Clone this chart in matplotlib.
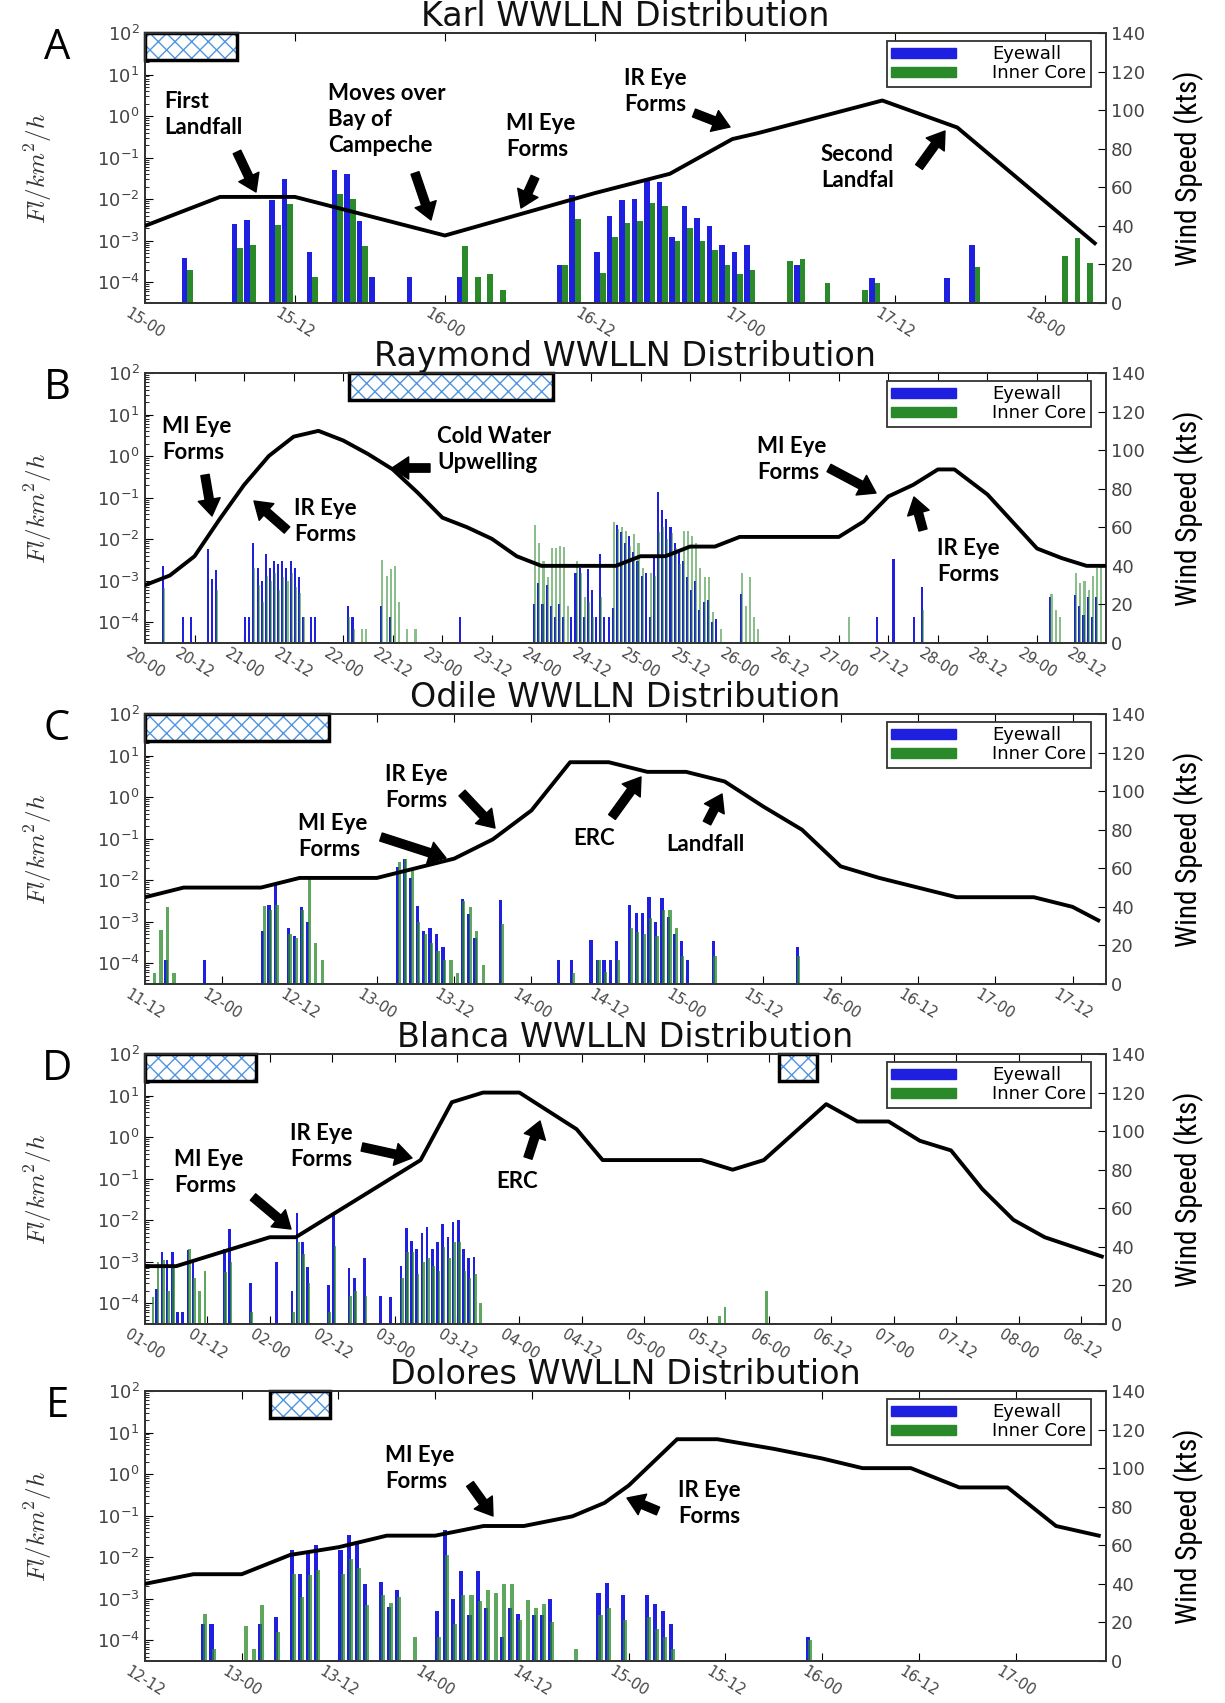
import numpy as np
import matplotlib
matplotlib.use("Agg")
import matplotlib.pyplot as plt
import matplotlib.transforms as mtransforms
from matplotlib.patches import Rectangle
from matplotlib.ticker import LogLocator, NullFormatter
from matplotlib import font_manager

# ======================= DATA (hours since first tick) =======================
# ---- Karl ----
karl_ticks = ["15-00", "15-12", "16-00", "16-12", "17-00", "17-12", "18-00"]
karl_span = 76.9
karl_track_h = [0, 6, 12, 18, 24, 30, 36, 42, 47, 49, 59, 65, 76]
karl_wind = [40, 55, 55, 45, 35, 46, 57, 67, 85, 88, 105, 91, 31]
karl_eye_h = [3, 7, 8, 10, 11, 13, 15, 16, 17, 18, 21, 25, 33, 34, 36, 37, 38, 39, 40, 41,
              42, 43, 44, 45, 46, 47, 48, 52, 58, 64, 66]
karl_eye_v = [3.9e-4, 2.5e-3, 3.2e-3, 9.5e-3, 3.0e-2, 5.3e-4, 4.9e-2, 4.0e-2, 3.0e-3, 1.3e-4,
              1.3e-4, 1.3e-4, 2.6e-4, 1.26e-2, 5.3e-4, 4.0e-3, 9.5e-3, 1.0e-2, 2.9e-2, 2.6e-2,
              1.2e-3, 6.9e-3, 3.5e-3, 2.2e-3, 8.0e-4, 5.3e-4, 8.0e-4, 2.6e-4, 1.26e-4, 1.26e-4, 8.0e-4]
karl_core_h = [3, 7, 8, 10, 11, 13, 15, 16, 17, 25, 26, 27, 28, 33, 34, 36, 37, 38, 39, 40,
               41, 42, 43, 44, 45, 46, 47, 48, 51, 52, 54, 57, 58, 66, 73, 74, 75]
karl_core_v = [2.0e-4, 6.6e-4, 8.0e-4, 2.4e-3, 7.6e-3, 1.3e-4, 1.3e-2, 1.0e-2, 7.4e-4, 7.4e-4,
               1.3e-4, 1.6e-4, 6.5e-5, 2.6e-4, 3.3e-3, 1.66e-4, 1.26e-3, 2.6e-3, 3.0e-3, 8.3e-3,
               6.9e-3, 1.0e-3, 2.0e-3, 9.6e-4, 6.0e-4, 2.6e-4, 1.6e-4, 2.0e-4, 3.3e-4, 3.6e-4,
               9.8e-5, 6.5e-5, 9.8e-5, 2.3e-4, 4.3e-4, 1.15e-3, 2.9e-4]
karl_hatch = [(0, 7.4)]

# ---- Raymond ----
raymond_ticks = ["20-00", "20-12", "21-00", "21-12", "22-00", "22-12", "23-00", "23-12",
                 "24-00", "24-12", "25-00", "25-12", "26-00", "26-12", "27-00", "27-12",
                 "28-00", "28-12", "29-00", "29-12"]
raymond_span = 232.7
raymond_track_h = [0, 6, 12, 18, 24, 30, 36, 42, 48, 54, 60, 66, 72, 78, 84, 90, 96, 102, 108,
                   114, 120, 126, 132, 138, 144, 150, 156, 162, 168, 174, 180, 186, 192, 196,
                   204, 210, 216, 222, 228, 232.7]
raymond_wind = [30, 35, 45, 64, 82, 97, 107, 110, 105, 98, 90, 78, 65, 60, 54, 45, 40, 40, 40,
                40, 45, 45, 50, 50, 55, 55, 55, 55, 55, 63, 76, 82, 90, 90,
                77, 63, 49, 44, 40, 40]
raymond_eye_h = [4, 9, 11, 15, 16, 17, 24, 25, 26, 27, 28, 29, 30, 31, 32, 33, 34, 35, 36, 37,
                 38, 40, 41, 49, 50, 57, 59, 76, 94, 95, 96, 97, 98, 99, 100, 101, 103, 104,
                 105, 106, 107, 108, 109, 110, 111, 112, 113, 114, 115, 116, 117, 118, 119,
                 120, 121, 122, 123, 124, 125, 126, 127, 128, 129, 130, 131, 132, 133, 134,
                 135, 136, 137, 138, 144, 177, 181, 186, 188, 219, 225, 226, 227, 228, 229, 230]
raymond_eye_v = [2.2e-3, 1.3e-4, 1.3e-4, 5.9e-3, 1.1e-3, 1.8e-3, 1.3e-4, 1.3e-4, 8e-3, 2e-3,
                 1e-3, 4.5e-3, 2e-3, 3e-3, 2.5e-3, 3e-3, 2e-3, 3e-3, 2e-3, 1.2e-3,
                 1.3e-4, 1.3e-4, 1.3e-4, 2.5e-4, 1.3e-4, 2.5e-4, 1.3e-4, 1.3e-4, 2.7e-4, 8.7e-4,
                 2.7e-4, 8e-4, 2.5e-4, 1.3e-4, 2.7e-4, 1.3e-4, 1.3e-4, 1.5e-3,
                 2e-3, 1.3e-4, 1.9e-3, 6e-4, 1.3e-4, 4.3e-3, 1.3e-4, 1.3e-4, 2.2e-4, 2.2e-2,
                 1.5e-2, 8e-3, 1.2e-2, 5e-3, 3e-3,
                 1.3e-3, 1.5e-3, 1.3e-4, 4e-3, 1.4e-1, 5e-2, 3e-2, 2e-2, 8e-3, 5e-3, 3e-3,
                 1.2e-3, 6e-4, 1e-3, 2e-4,
                 3e-4, 3.5e-4, 1e-4, 1.2e-4, 4.9e-4, 1.3e-4, 3.4e-3, 1.3e-4, 6.9e-4, 4e-4,
                 4.5e-4, 2.5e-4, 1.5e-4, 4e-4, 1.3e-4, 4e-4]
raymond_core_h = [4, 17, 26, 27, 28, 29, 30, 31, 32, 33, 34, 35, 36, 37, 38, 49, 50, 52, 53,
                  57, 58, 59, 60, 61, 63, 65, 94, 95, 96, 97, 98, 99, 100, 101, 102, 104, 105,
                  106, 107, 108, 110, 113, 114, 115, 116, 117, 118, 119, 120, 122, 123, 124,
                  125, 126, 127, 128, 129, 130, 131, 132, 133, 134, 135, 136, 137, 139, 144,
                  145, 146, 147, 148, 170, 188, 219, 220, 221, 225, 226, 227, 228, 229, 230, 231]
raymond_core_v = [6.7e-4, 6e-4, 2e-3, 8e-4, 3e-4, 1.3e-3, 1e-3, 1.5e-3, 6e-4, 1.2e-3, 1e-3,
                  1.5e-3, 7e-4, 5e-4, 1.3e-4, 1.3e-4, 6.8e-5, 6.8e-5, 6.8e-5,
                  3.2e-3, 1.3e-3, 1.9e-3, 2.2e-3, 3e-4, 6.8e-5, 6.8e-5, 2.2e-2, 8e-3, 3e-3,
                  1.2e-3, 6e-3, 6e-3, 7e-3, 6.5e-3, 2.5e-4, 3e-3, 1.5e-3,
                  4e-4, 3e-4, 1.3e-4, 4e-4, 2.6e-2, 1.8e-2, 2e-2, 1.6e-2, 7e-3, 1.3e-2, 8e-3,
                  2e-3, 1.5e-3, 1.3e-3, 1.5e-2,
                  2e-2, 1e-2, 1.4e-2, 6e-3, 2.5e-3, 1.6e-2, 1.6e-2, 1.2e-2, 8e-3, 2e-3, 1.2e-3,
                  1.2e-3, 1.8e-4, 6.8e-5, 1.5e-3,
                  2.5e-4, 1.2e-3, 1.3e-4, 6.8e-5, 1.3e-4, 2e-4, 4.9e-4, 2e-4, 1.3e-4, 1.5e-3,
                  9e-4, 1e-3, 6e-4, 1.3e-3, 2e-3, 2.5e-3]
raymond_hatch = [(49.4, 98.7)]

# ---- Odile ----
odile_ticks = ["11-12", "12-00", "12-12", "13-00", "13-12", "14-00", "14-12", "15-00",
               "15-12", "16-00", "16-12", "17-00", "17-12"]
odile_span = 149.2
odile_track_h = [0, 6, 12, 18, 24, 30, 36, 42, 48, 54, 60, 66, 72, 78, 84, 90, 96, 102, 108,
                 114, 120, 126, 132, 138, 144, 148]
odile_wind = [45, 50, 50, 50, 55, 55, 55, 60, 65, 75, 90, 115, 115, 110, 110, 105, 92, 80, 61,
              55, 50, 45, 45, 45, 40, 33]
odile_eye_h = [3, 9, 18, 19, 20, 22, 23, 24, 25, 39, 40, 41, 42, 43, 44, 45, 46, 49, 50, 51,
               55, 64, 66, 69, 70, 71, 72, 73, 75, 76, 77, 78, 79, 80, 81, 82, 83, 84, 88, 101]
odile_eye_v = [1.2e-4, 1.2e-4, 6e-4, 2.5e-3, 8.3e-3, 7e-4, 4.5e-4, 2.2e-3, 1e-3, 2.1e-2,
               3.3e-2, 1.1e-2, 2.4e-3, 6e-4, 7e-4, 5e-4, 2.5e-4, 3.6e-3, 1.5e-3, 4e-4,
               3.4e-3, 1.2e-4, 1.2e-4, 3.6e-4, 1.2e-4, 1.2e-4, 1.2e-4, 3.5e-4, 2.5e-3, 1.6e-3,
               1.6e-3, 4e-3, 1e-3, 3.8e-3, 1.3e-3, 5e-4, 3.5e-4, 1.2e-4, 3.5e-4, 2.5e-4]
odile_core_h = [1, 2, 3, 4, 18, 19, 20, 22, 23, 24, 25, 26, 27, 39, 40, 41, 42, 43, 44, 45,
                46, 47, 48, 49, 50, 51, 52, 55, 66, 70, 71, 73, 75, 76, 77, 78, 79, 80, 81, 82,
                83, 88, 101]
odile_core_v = [5.9e-5, 6.3e-4, 2.2e-3, 5.9e-5, 2.4e-3, 1.9e-3, 2.5e-3, 5e-4, 4e-4, 1.9e-3,
                1.1e-2, 3e-4, 1.2e-4, 2.8e-2, 3.3e-2, 1.8e-2, 1e-3, 5e-4, 3e-4, 2e-4,
                1.2e-4, 1.2e-4, 5.9e-5, 3.2e-3, 2.2e-3, 6e-4, 9e-5, 9e-4, 5.9e-5, 1.2e-4,
                6e-5, 1.2e-4, 7e-4, 5.5e-4, 5e-4, 1.2e-3, 4.5e-4, 1.9e-3, 1.9e-3, 7e-4,
                1.5e-4, 1.5e-4, 1.5e-4]
odile_hatch = [(0, 28.6)]

# ---- Blanca ----
blanca_ticks = ["01-00", "01-12", "02-00", "02-12", "03-00", "03-12", "04-00", "04-12",
                "05-00", "05-12", "06-00", "06-12", "07-00", "07-12", "08-00", "08-12"]
blanca_span = 184.8
blanca_track_h = [0, 6, 24, 29, 53, 59, 65, 72, 83, 88, 107, 113, 119, 131, 137, 143, 149,
                  155, 161, 167, 173, 184]
blanca_wind = [30, 30, 45, 45, 85, 115, 120, 120, 101, 85, 85, 80, 85, 114, 105, 105, 95, 90,
               70, 54, 45, 35]
blanca_eye_h = [2, 3, 4, 5, 6, 7, 8, 9, 15, 16, 20, 25, 28, 29, 30, 31, 35, 36, 39, 40, 42,
                45, 47, 49, 50, 51, 52, 53, 54, 55, 56, 57, 58, 59, 60, 61, 62, 63]
blanca_eye_v = [2.2e-4, 1.7e-3, 1.1e-3, 1.7e-3, 6e-5, 6e-5, 1.9e-3, 1e-3, 2e-3, 6e-3, 3e-4,
                1e-3, 2e-4, 1.5e-2, 3e-3, 7.6e-4, 2.8e-4, 1.5e-2, 7e-4, 4e-4, 1.2e-3,
                1.5e-4, 1.4e-4, 8e-4, 6.6e-3, 3.2e-3, 2e-3, 5e-3, 7e-3, 2e-3, 3e-3, 8e-3, 4e-3,
                9e-3, 1e-2, 2e-3, 1.2e-3, 1.3e-3]
blanca_core_h = [1, 2, 3, 4, 5, 8, 9, 10, 11, 15, 16, 20, 28, 29, 30, 31, 35, 36, 39, 40, 42,
                 49, 50, 51, 52, 53, 54, 55, 56, 57, 58, 59, 60, 61, 62, 63, 64, 110, 111, 119]
blanca_core_v = [1.4e-4, 1e-3, 1.1e-3, 2e-4, 8e-4, 2e-3, 4e-4, 2e-4, 6e-4, 5.5e-4, 1e-3,
                 6e-5, 6e-5, 3e-3, 1.5e-3, 3e-4, 6e-5, 2.4e-3, 1.5e-4, 2e-4, 1.5e-4,
                 4e-4, 1.7e-3, 1.7e-3, 5e-4, 1e-3, 1.2e-3, 8e-4, 6e-4, 2.2e-3, 1.2e-3, 3e-3,
                 3e-3, 6e-4, 4e-4, 5e-4, 1e-4, 5e-5, 8e-5, 2e-4]
blanca_hatch = [(0, 21.4), (122, 129.3)]

# ---- Dolores ----
dolores_ticks = ["12-12", "13-00", "13-12", "14-00", "14-12", "15-00", "15-12", "16-00",
                 "16-12", "17-00"]
dolores_span = 119.2
dolores_track_h = [0, 6, 12, 18, 24, 30, 36, 42, 47, 53, 57, 60, 66, 71, 78, 84, 89, 95, 101,
                   107, 113, 118.3]
dolores_wind = [40, 45, 45, 55, 59, 65, 65, 70, 70, 75, 82, 91, 115, 115, 110, 105, 100, 100,
                90, 90, 70, 65]
dolores_eye_h = [7, 8, 14, 16, 18, 19, 20, 21, 24, 25, 26, 27, 29, 30, 31, 36, 37, 38, 39, 40,
                 41, 42, 44, 45, 46, 48, 49, 50, 56, 57, 59, 62, 63, 64, 65, 82]
dolores_eye_v = [2.5e-4, 2.5e-4, 2.5e-4, 3.7e-4, 1.5e-2, 4e-3, 1.4e-2, 2e-2, 1.5e-2, 3.4e-2,
                 2.4e-2, 2.3e-3, 2.5e-3, 6.3e-4, 1.6e-3, 5e-4, 4.6e-2, 1e-3, 4.6e-3, 4e-4,
                 4.6e-3, 6e-4, 1.2e-4, 6e-4, 4.4e-4, 4e-4, 4e-4, 1e-3, 1.4e-3, 2.4e-3,
                 1.2e-3, 1.2e-3, 7.5e-4, 5e-4, 2.5e-4, 1.2e-4]
dolores_core_h = [7, 8, 12, 13, 14, 16, 18, 19, 20, 21, 24, 25, 26, 27, 29, 30, 31, 33, 36, 37,
                  38, 39, 40, 41, 42, 43, 44, 45, 46, 47, 48, 49, 50, 53, 56, 57, 59, 62, 63,
                  64, 65, 82]
dolores_core_v = [4.4e-4, 6.2e-5, 2.2e-4, 6.2e-5, 6.9e-4, 1.6e-4, 4e-3, 1.1e-3, 3.7e-3, 5e-3,
                  4e-3, 9e-3, 5.6e-3, 6.9e-4, 1.2e-3, 8e-4, 1.1e-3, 1.2e-4, 1.2e-4, 1.1e-2,
                  2.5e-4, 1.2e-3, 1.2e-3, 8.6e-4, 1.6e-3, 1.4e-3, 2.2e-3, 2.3e-3, 3e-4, 9.4e-4,
                  6e-4, 7.5e-4, 2.8e-4, 6.2e-5, 4e-4, 6e-4, 3e-4, 3.7e-4, 1.9e-4, 1.2e-4,
                  6e-5, 1e-4]
dolores_hatch = [(15.5, 22.9)]

storm_names = ["Karl", "Raymond", "Odile", "Blanca", "Dolores"]
panel_letters = ["A", "B", "C", "D", "E"]
legend_labels = ["Eyewall", "Inner Core"]

# annotations: text, text top-left (px), arrow tail (px), arrow tip (px)
annotations = [
    ("First\nLandfall", (164, 91), (237, 152), (256, 192)),
    ("Moves over\nBay of\nCampeche", (328, 83), (415, 173), (431, 220)),
    ("MI Eye\nForms", (506, 113), (535, 177), (521, 208)),
    ("IR Eye\nForms", (624, 68), (694, 113), (730, 127)),
    ("Second\nLandfal", (821, 144), (919, 167), (945, 131)),
    ("MI Eye\nForms", (162, 416), (205, 475), (212, 516)),
    ("IR Eye\nForms", (294, 498), (287, 530), (254, 501)),
    ("Cold Water\nUpwelling", (437, 426), (430, 468), (392, 468)),
    ("MI Eye\nForms", (757, 436), (829, 468), (876, 493)),
    ("IR Eye\nForms", (937, 538), (923, 530), (914, 497)),
    ("IR Eye\nForms", (385, 764), (462, 793), (495, 828)),
    ("MI Eye\nForms", (298, 813), (381, 837), (446, 858)),
    ("ERC", (573, 828), (612, 817), (641, 777)),
    ("Landfall", (666, 834), (707, 823), (722, 794)),
    ("IR Eye\nForms", (290, 1123), (362, 1147), (412, 1158)),
    ("MI Eye\nForms", (174, 1149), (253, 1197), (291, 1229)),
    ("ERC", (496, 1171), (528, 1158), (540, 1121)),
    ("MI Eye\nForms", (385, 1445), (470, 1484), (493, 1516)),
    ("IR Eye\nForms", (678, 1480), (658, 1511), (627, 1498)),
]

# ======================= STYLE / LAYOUT =======================
W, H = 1225, 1703
names = {f.name for f in font_manager.fontManager.ttflist}
def pick(*cands):
    for c in cands:
        if c in names:
            return c
    return "DejaVu Sans"
ANNOT_FONT = pick("Lato", "Open Sans", "DejaVu Sans")
NARROW_FONT = pick("Liberation Sans Narrow", "Roboto Condensed", "Open Sans Condensed", "Lato")
LETTER_FONT = pick("Open Sans", "Lato", "DejaVu Sans")

BLUE = "#1f1fe0"
GREEN = "#2a8a2a"
YMIN, YMAX = 10 ** -4.5, 1e2

fig = plt.figure(figsize=(W / 100, H / 100), dpi=100)

axes_top_px = [33, 373, 714, 1054, 1391]
AX_L, AX_W, AX_H = 145, 961, 270

def fxy(x, y):
    return (x / W, 1 - y / H)

panels = [
    (karl_ticks, karl_span, karl_track_h, karl_wind, karl_eye_h, karl_eye_v, karl_core_h, karl_core_v, karl_hatch),
    (raymond_ticks, raymond_span, raymond_track_h, raymond_wind, raymond_eye_h, raymond_eye_v, raymond_core_h, raymond_core_v, raymond_hatch),
    (odile_ticks, odile_span, odile_track_h, odile_wind, odile_eye_h, odile_eye_v, odile_core_h, odile_core_v, odile_hatch),
    (blanca_ticks, blanca_span, blanca_track_h, blanca_wind, blanca_eye_h, blanca_eye_v, blanca_core_h, blanca_core_v, blanca_hatch),
    (dolores_ticks, dolores_span, dolores_track_h, dolores_wind, dolores_eye_h, dolores_eye_v, dolores_core_h, dolores_core_v, dolores_hatch),
]

for i, (ticks, span, th, wind, eh, ev, ch, cv, hatch) in enumerate(panels):
    top = axes_top_px[i]
    ax = fig.add_axes([AX_L / W, 1 - (top + AX_H) / H, AX_W / W, AX_H / H])
    ax.set_yscale("log")
    ax.set_ylim(YMIN, YMAX)
    ax.set_xlim(0, span)

    eh = np.asarray(eh, float); ev = np.asarray(ev, float)
    ch = np.asarray(ch, float); cv = np.asarray(cv, float)
    if i == 0:
        ax.bar(eh - 0.05, ev, width=0.45, align="edge", color=BLUE, linewidth=0, zorder=2)
        ax.bar(ch + 0.4, cv, width=0.45, align="edge", color=GREEN, linewidth=0, zorder=2)
    else:
        ax.bar(eh, ev, width=0.5, align="edge", color=BLUE, linewidth=0, zorder=2)
        ax.bar(ch + 0.25, cv, width=0.5, align="edge", color=GREEN,
               alpha=0.55 if i == 1 else 0.75, linewidth=0, zorder=3)

    # hatched boxes
    trans = mtransforms.blended_transform_factory(ax.transData, ax.transAxes)
    for x0, x1 in hatch:
        ax.add_patch(Rectangle((x0, 0.9), x1 - x0, 0.1, transform=trans, facecolor="white",
                               edgecolor="#4f95e0", hatch="xx", linewidth=0, zorder=5,
                               clip_on=False))
        ax.add_patch(Rectangle((x0, 0.9), x1 - x0, 0.1, transform=trans, fill=False,
                               edgecolor="black", linewidth=2.5, zorder=6, clip_on=False))

    ax.set_xticks(12 * np.arange(len(ticks)))
    ax.set_xticklabels(ticks, rotation=-32, ha="center", va="top", fontsize=10.5, color="#333")
    ax.set_yticks([1e-4, 1e-3, 1e-2, 1e-1, 1e0, 1e1, 1e2])
    ax.yaxis.set_minor_locator(LogLocator(base=10, subs=np.arange(2, 10), numticks=20))
    ax.yaxis.set_minor_formatter(NullFormatter())
    ax.tick_params(axis="both", which="major", direction="in", length=6, top=True,
                   labelcolor="#444")
    ax.tick_params(axis="x", which="major", pad=2)
    ax.tick_params(axis="y", which="major", labelsize=13, pad=4)
    ax.tick_params(axis="y", which="minor", direction="in", length=3)
    ax.tick_params(axis="y", which="both", right=False)
    for s in ax.spines.values():
        s.set_linewidth(1.3)
        s.set_color("#333")
    ax.set_ylabel("$Fl/km^2/h$", fontsize=18, math_fontfamily="cm", color="#333")
    ax.yaxis.set_label_coords(-0.095, 0.5)
    ax.set_title(f"{storm_names[i]} WWLLN Distribution", fontsize=24, pad=1,
                 color="#111")

    ax2 = ax.twinx()
    ax2.plot(th, wind, color="black", linewidth=2.8, zorder=4)
    ax2.set_ylim(0, 140)
    ax2.set_yticks(np.arange(0, 141, 20))
    ax2.tick_params(axis="y", direction="in", length=6, labelsize=13, labelcolor="#444")
    ax2.set_ylabel("Wind Speed (kts)", fontsize=21, family=[NARROW_FONT, "DejaVu Sans"])
    ax2.yaxis.set_label_coords(1.07, 0.5)
    for s in ax2.spines.values():
        s.set_linewidth(1.3)
        s.set_color("#333")

    handles = [Rectangle((0, 0), 1, 1, color=BLUE), Rectangle((0, 0), 1, 1, color=GREEN)]
    leg = ax2.legend(handles, legend_labels, loc="upper right", bbox_to_anchor=(0.988, 0.985),
                     fontsize=13, handlelength=3.6, handleheight=0.5, handletextpad=2.0,
                     borderpad=0.25, labelspacing=0.05, borderaxespad=0.2, fancybox=False,
                     framealpha=1, edgecolor="#333")
    leg.get_frame().set_linewidth(1.3)

    fig.text(*fxy(57, top + 15), panel_letters[i], fontsize=30, ha="center", va="center",
             family=[LETTER_FONT, "DejaVu Sans"])

for text, (tx, ty), tail, tip in annotations:
    fig.text(*fxy(tx, ty), text, fontsize=16, fontweight="bold", ha="left", va="top",
             linespacing=1.3, family=[ANNOT_FONT, "DejaVu Sans"])
    fig.add_artist(matplotlib.text.Annotation(
        "", xy=fxy(*tip), xytext=fxy(*tail), xycoords="figure fraction",
        textcoords="figure fraction",
        arrowprops=dict(facecolor="black", edgecolor="black", width=6, headwidth=16,
                        headlength=12, shrink=0)))

fig.savefig("out.png", dpi=100)
